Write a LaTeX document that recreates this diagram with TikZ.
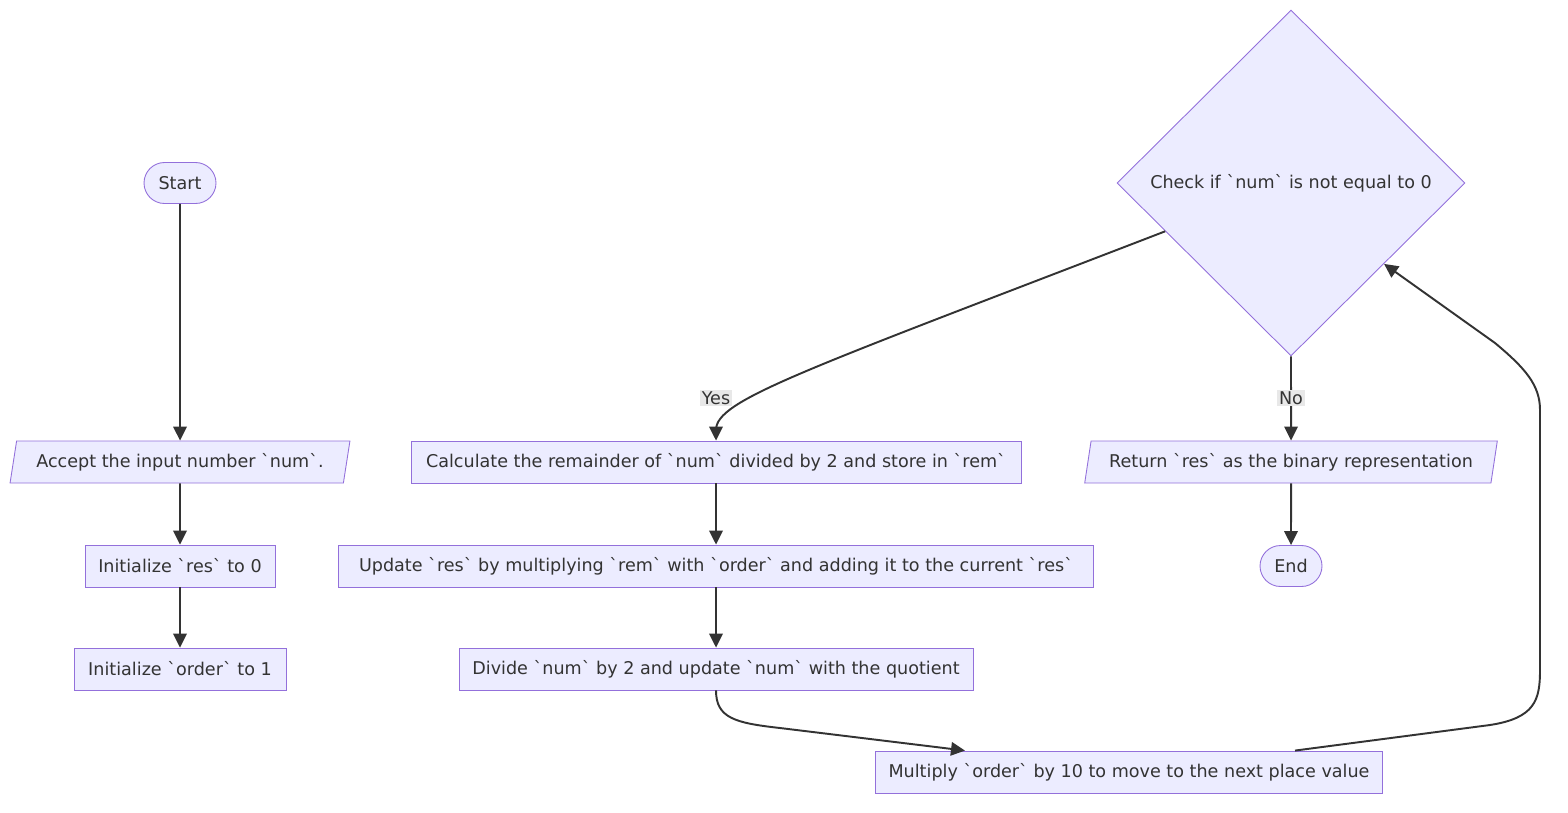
\documentclass[tikz,border=0pt]{standalone}
\usepackage{fontspec}
\newfontfamily\flowfont{DejaVu Sans}
\usetikzlibrary{arrows.meta,shapes.geometric,calc}

\definecolor{boxfill}{HTML}{ECECFF}
\definecolor{boxline}{HTML}{9370DB}
\definecolor{ink}{HTML}{333333}
\definecolor{tagfill}{HTML}{E8E8E8}

\begin{document}
\begin{tikzpicture}[
  x=0.02cm, y=-0.02cm,
  font=\flowfont\fontsize{10}{12}\selectfont, text=ink,
  box/.style={draw=boxline, fill=boxfill, line width=0.5pt, minimum height=0.84cm, inner sep=2pt},
  process/.style={box, rectangle},
  terminal/.style={box, rectangle, rounded corners=0.41cm, minimum height=0.82cm},
  io/.style={box, trapezium, trapezium left angle=76.6, trapezium right angle=103.4, trapezium stretches=true},
  decision/.style={box, diamond, minimum width=6.96cm, minimum height=6.92cm},
  flow/.style={-{Triangle[length=2.8mm, width=2.7mm]}, line width=1.1pt, draw=ink},
  edgetag/.style={fill=tagfill, inner sep=1pt}
]
  \useasboundingbox (0,0) rectangle (1568,812);

  % Set-up column on the left
  \node[terminal, minimum width=1.44cm] (start) at (180,183) {Start};
  \node[io, minimum width=6.8cm] (accept) at (180,462) {Accept the input number `num`.};
  \node[process, minimum width=3.8cm] (initres) at (180,566) {Initialize `res` to 0};
  \node[process, minimum width=4.24cm] (initorder) at (180,669) {Initialize `order` to 1};

  % Loop body and test
  \node[decision] (check) at (1291,183) {Check if `num` is not equal to 0};
  \node[process, minimum width=12.2cm] (calc) at (716,462) {Calculate the remainder of `num` divided by 2 and store in `rem`};
  \node[process, minimum width=15.1cm] (update) at (716,566) {Update `res` by multiplying `rem` with `order` and adding it to the current `res`};
  \node[process, minimum width=10.28cm] (divide) at (716,669) {Divide `num` by 2 and update `num` with the quotient};
  \node[process, minimum width=10.14cm] (multiply) at (1129,772) {Multiply `order` by 10 to move to the next place value};

  \node[io, minimum width=8.28cm] (return) at (1291,462) {Return `res` as the binary representation};
  \node[terminal, minimum width=1.24cm] (finish) at (1291,566) {End};

  \draw[flow] (start) -- (accept);
  \draw[flow] (accept) -- (initres);
  \draw[flow] (initres) -- (initorder);

  \draw[flow] (check.201) .. controls (800,372) and (716,400) .. (716,430) -- (calc);
  \node[edgetag] (yes) at (716,398) {Yes};
  \draw[flow] (check.south) -- (return.north);
  \node[edgetag] (no) at (1291,398) {No};

  \draw[flow] (calc) -- (update);
  \draw[flow] (update) -- (divide);
  \draw[flow] (divide.south) .. controls (716,718) and (735,723) .. (780,728) -- ($(multiply.north)+(-164,0)$);
  % back edge to the test
  \draw[flow] ($(multiply.north)+(166,0)$) -- (1490,725) .. controls (1535,718) and (1540,700) .. (1540,670)
    -- (1540,410) .. controls (1540,385) and (1525,368) .. (1495,343) -- (check.319);

  \draw[flow] (return.south) -- (finish.north);
\end{tikzpicture}
\end{document}
